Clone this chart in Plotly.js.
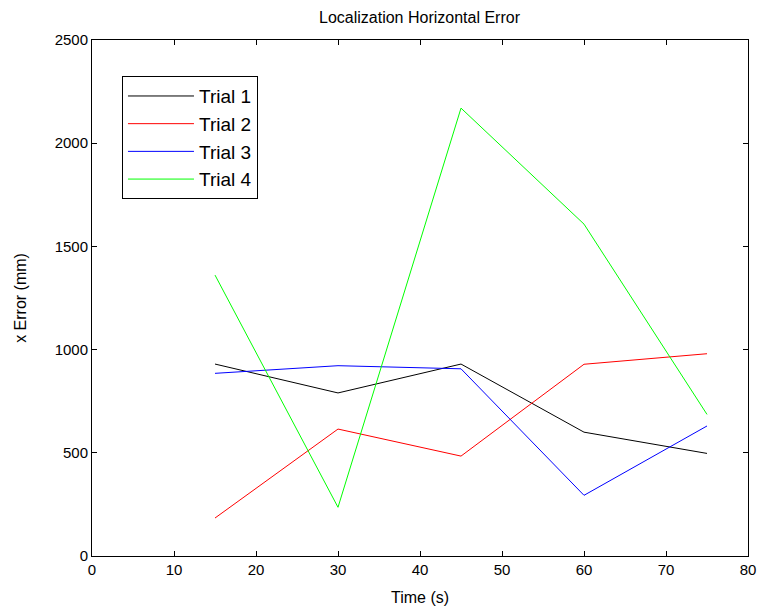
<!DOCTYPE html>
<html>
<head>
<meta charset="utf-8">
<script src="https://cdn.plot.ly/plotly-3.0.1.min.js"></script>
<style>html,body{margin:0;padding:0;background:#fff;}#chart{width:760px;height:611px;}</style>
</head>
<body>
<div id="chart"></div>
<script>
const time = [15, 30, 45, 60, 75];
const trialNames = ["Trial 1", "Trial 2", "Trial 3", "Trial 4"];
const trial1 = [930, 790, 930, 600, 497];
const trial2 = [184, 615, 484, 929, 980];
const trial3 = [885, 922, 907, 294, 630];
const trial4 = [1361, 236, 2170, 1608, 686];
const colors = ["#000000", "#ff0000", "#0000ff", "#00ff00"];
const series = [trial1, trial2, trial3, trial4];

const FONT = "'Liberation Sans Narrow', 'Arial Narrow', 'Liberation Sans', Arial, sans-serif";

const traces = series.map((ys, i) => ({
  x: time, y: ys, name: trialNames[i], type: "scatter", mode: "lines",
  line: {color: colors[i], width: 1}
}));

const axisCommon = {
  showgrid: false, zeroline: false, showline: true, linecolor: "#000", linewidth: 1,
  mirror: "ticks", ticks: "inside", ticklen: 5, tickcolor: "#000", tickwidth: 1,
  tickfont: {family: FONT, size: 15, color: "#000"}
};

const layout = {
  width: 760, height: 611,
  margin: {l: 92, r: 12, t: 40, b: 55},
  paper_bgcolor: "#fff", plot_bgcolor: "#fff",
  title: {text: "Localization Horizontal Error", font: {family: FONT, size: 16, color: "#000"}, x: 0.552, xanchor: "center", y: 0.972, yanchor: "middle"},
  xaxis: Object.assign({}, axisCommon, {range: [0, 80], tickvals: [0,10,20,30,40,50,60,70,80],
    title: {text: "Time (s)", font: {family: FONT, size: 16, color: "#000"}, standoff: 14}}),
  yaxis: Object.assign({}, axisCommon, {range: [0, 2500], tickvals: [0,500,1000,1500,2000,2500],
    title: {text: "x Error (mm)", font: {family: FONT, size: 16, color: "#000"}, standoff: 24}}),
  showlegend: true,
  legend: {x: 0.0457, y: 0.93, xanchor: "left", yanchor: "top", bgcolor: "#fff",
    bordercolor: "#000", borderwidth: 1, font: {family: FONT, size: 19, color: "#000"},
    tracegroupgap: 0, itemwidth: 66}
};

Plotly.newPlot("chart", traces, layout, {displayModeBar: false, staticPlot: true});
</script>
</body>
</html>
